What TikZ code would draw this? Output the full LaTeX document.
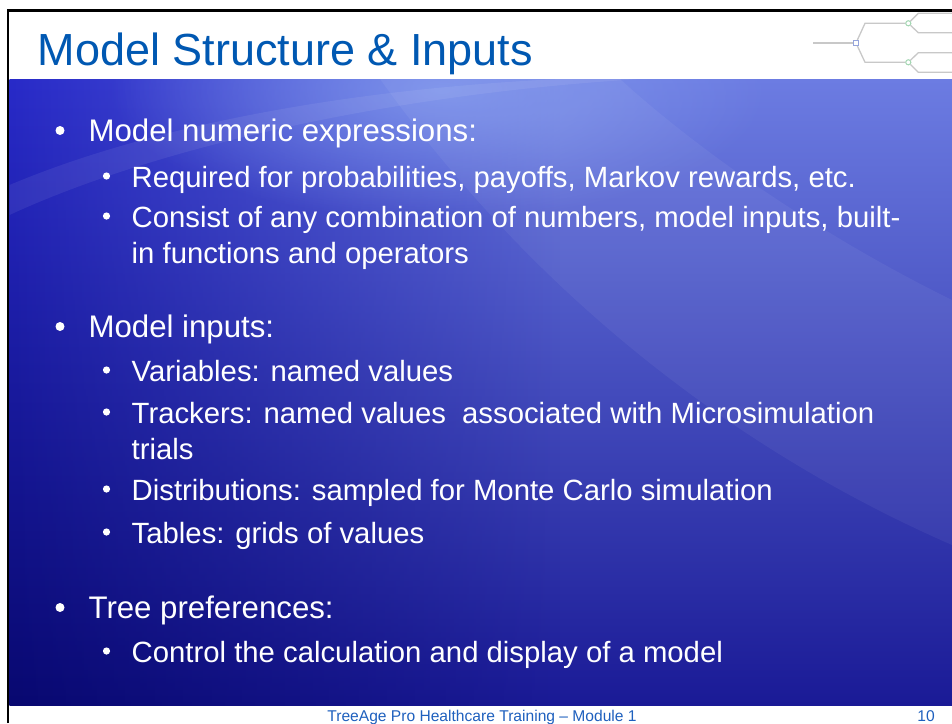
\documentclass[tikz,border=0pt]{standalone}
\usepackage{fontspec}
\setmainfont{Liberation Sans}
\usetikzlibrary{fadings}
\definecolor{titleblue}{RGB}{0,88,178}
\definecolor{footblue}{RGB}{30,96,190}
\definecolor{treegray}{RGB}{200,200,200}
\definecolor{rootblue}{RGB}{150,165,220}
\definecolor{chancegreen}{RGB}{165,215,180}
\definecolor{midtop}{RGB}{108,124,226}
\definecolor{midbot}{RGB}{26,26,150}
\definecolor{lefttop}{RGB}{40,42,200}
\definecolor{leftbot}{RGB}{8,8,112}
\definecolor{glowc}{RGB}{135,160,240}
\tikzfading[name=fadeleft, left color=transparent!0, right color=transparent!100]
\tikzfading[name=glowfade, inner color=transparent!0, outer color=transparent!100]
\begin{document}
\begin{tikzpicture}[x=1pt,y=-1pt,
  titletext/.style={anchor=base west, inner sep=0, text=titleblue, font=\fontsize{45}{54}\selectfont},
  lvlone/.style={anchor=base west, inner sep=0, text=white, font=\fontsize{31.2}{37}\selectfont},
  lvltwo/.style={anchor=base west, inner sep=0, text=white, font=\fontsize{29.3}{35}\selectfont},
  dotone/.style={circle, fill=white, minimum size=9, inner sep=0},
  dottwo/.style={circle, fill=white, minimum size=7.2, inner sep=0},
  foottext/.style={anchor=base, inner sep=0, text=footblue, font=\fontsize{15.6}{18}\selectfont},
  treeline/.style={draw=treegray, line width=1.3},
  rootnode/.style={rectangle, draw=rootblue, fill=white, minimum size=5, inner sep=0, line width=0.9},
  chance/.style={circle, draw=chancegreen, fill=white, minimum size=5, inner sep=0, line width=0.9}
]
\useasboundingbox (0,0) rectangle (952,723);
\fill[white] (0,0) rectangle (952,723);

% blue panel
\begin{scope}
  \clip (9.5,79) rectangle (952,705);
  \shade[top color=midtop, bottom color=midbot] (9.5,79) rectangle (952,705);
  \shade[top color=lefttop, bottom color=leftbot, path fading=fadeleft] (9.5,79) rectangle (560,705);
  \fill[glowc, path fading=glowfade, opacity=0.75] (440,90) ellipse [x radius=330, y radius=130];
  \fill[white, opacity=0.05] (380,79) .. controls (560,330) and (780,470) .. (952,545) -- (952,300) .. controls (850,250) and (720,170) .. (620,79) -- cycle;
  \fill[white, opacity=0.07] (9.5,215) .. controls (150,150) and (380,95) .. (640,79) -- (560,79) .. controls (330,90) and (140,130) .. (9.5,185) -- cycle;
\end{scope}

% frame
\draw[line width=2.6] (8,723) -- (8,10.5) -- (952,10.5);

% title
\node[titletext] (title) at (37.5,65) {Model Structure \& Inputs};

% tree logo
\coordinate (t0) at (813,43);
\node[rootnode] (t1) at (856,43) {};
\coordinate (t1u) at (865,23.3);
\coordinate (t1d) at (865,62.3);
\node[chance] (t2) at (908.3,23.3) {};
\node[chance] (t3) at (908.3,62.3) {};
\coordinate (t2a) at (918.3,13.3);
\coordinate (t2b) at (918.3,32.7);
\coordinate (t3a) at (918.3,52.7);
\coordinate (t3b) at (918.3,72.3);
\coordinate (e2a) at (952,13.3);
\coordinate (e2b) at (952,32.7);
\coordinate (e3a) at (952,52.7);
\coordinate (e3b) at (952,72.3);
\draw[treeline] (t0) -- (t1);
\draw[treeline] (t1) -- (t1u) -- (t2);
\draw[treeline] (t1) -- (t1d) -- (t3);
\draw[treeline] (t2) -- (t2a) -- (e2a);
\draw[treeline] (t2) -- (t2b) -- (e2b);
\draw[treeline] (t3) -- (t3a) -- (e3a);
\draw[treeline] (t3) -- (t3b) -- (e3b);
\node[rootnode] at (t1) {};
\node[chance] at (t2) {};
\node[chance] at (t3) {};

% bullets level one
\node[dotone] (b1) at (60,130.5) {};
\node[lvlone] (l1) at (88.4,141) {Model numeric expressions:};
\node[dotone] (b2) at (60,326.5) {};
\node[lvlone] (l2) at (88.4,337) {Model inputs:};
\node[dotone] (b3) at (60,607.5) {};
\node[lvlone] (l3) at (88.4,618) {Tree preferences:};

% bullets level two
\node[dottwo] (c1) at (106.5,176) {};
\node[lvltwo] (s1) at (131.5,187) {Required for probabilities, payoffs, Markov rewards, etc.};
\node[dottwo] (c2) at (106.5,216) {};
\node[lvltwo] (s2) at (131.5,227) {Consist of any combination of numbers, model inputs, built-};
\node[lvltwo] (s2b) at (131.5,263) {in functions and operators};
\node[dottwo] (c3) at (106.5,370) {};
\node[lvltwo] (s3) at (131.5,381) {Variables: named values};
\node[dottwo] (c4) at (106.5,412) {};
\node[lvltwo] (s4) at (131.5,423) {Trackers: named values\ \ associated with Microsimulation};
\node[lvltwo] (s4b) at (131.5,459) {trials};
\node[dottwo] (c5) at (106.5,489) {};
\node[lvltwo] (s5) at (131.5,500) {Distributions: sampled for Monte Carlo simulation};
\node[dottwo] (c6) at (106.5,532) {};
\node[lvltwo] (s6) at (131.5,543) {Tables: grids of values};
\node[dottwo] (c7) at (106.5,651) {};
\node[lvltwo] (s7) at (131.5,662) {Control the calculation and display of a model};

% footer
\node[foottext] (foot) at (482,721) {TreeAge Pro Healthcare Training – Module 1};
\node[foottext, anchor=base east] (pg) at (935,721) {10};
\end{tikzpicture}
\end{document}
